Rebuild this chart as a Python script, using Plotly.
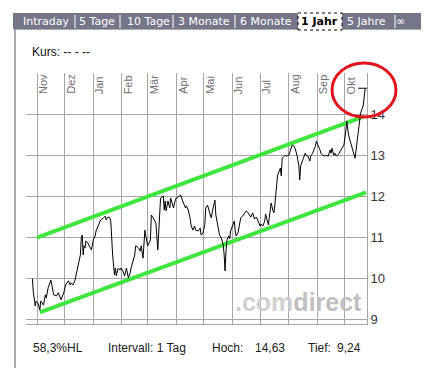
import plotly.graph_objects as go

# ---------------- data ----------------
dates = [
    "2006-10-27", "2006-10-28", "2006-10-30", "2006-10-31", "2006-11-02", "2006-11-04", "2006-11-05",
    "2006-11-08", "2006-11-10", "2006-11-11", "2006-11-13", "2006-11-15", "2006-11-16", "2006-11-19",
    "2006-11-22", "2006-11-24", "2006-11-26", "2006-11-27", "2006-11-30", "2006-12-02", "2006-12-05",
    "2006-12-07", "2006-12-08", "2006-12-10", "2006-12-12", "2006-12-13", "2006-12-15", "2006-12-18",
    "2006-12-19", "2006-12-20", "2006-12-21", "2006-12-22", "2006-12-23", "2006-12-24", "2006-12-26",
    "2006-12-28", "2006-12-30", "2007-01-01", "2007-01-03", "2007-01-04", "2007-01-06", "2007-01-08",
    "2007-01-09", "2007-01-12", "2007-01-14", "2007-01-15", "2007-01-17", "2007-01-19", "2007-01-20",
    "2007-01-22", "2007-01-24", "2007-01-25", "2007-01-26", "2007-01-28", "2007-01-30", "2007-01-31",
    "2007-02-02", "2007-02-04", "2007-02-06", "2007-02-08", "2007-02-10", "2007-02-11", "2007-02-13",
    "2007-02-15", "2007-02-16", "2007-02-19", "2007-02-21", "2007-02-22", "2007-02-24", "2007-02-26",
    "2007-02-27", "2007-03-01", "2007-03-04", "2007-03-05", "2007-03-07", "2007-03-09", "2007-03-10",
    "2007-03-12", "2007-03-14", "2007-03-15", "2007-03-18", "2007-03-19", "2007-03-20", "2007-03-21",
    "2007-03-23", "2007-03-25", "2007-03-26", "2007-03-29", "2007-03-31", "2007-04-01", "2007-04-03",
    "2007-04-05", "2007-04-06", "2007-04-08", "2007-04-11", "2007-04-12", "2007-04-14", "2007-04-16",
    "2007-04-17", "2007-04-19", "2007-04-21", "2007-04-22", "2007-04-25", "2007-04-27", "2007-04-28",
    "2007-04-30", "2007-05-02", "2007-05-03", "2007-05-05", "2007-05-08", "2007-05-09", "2007-05-11",
    "2007-05-13", "2007-05-14", "2007-05-16", "2007-05-18", "2007-05-20", "2007-05-22", "2007-05-23",
    "2007-05-24", "2007-05-25", "2007-05-26", "2007-05-28", "2007-05-29", "2007-05-30", "2007-06-02",
    "2007-06-03", "2007-06-04", "2007-06-05", "2007-06-07", "2007-06-09", "2007-06-10", "2007-06-12",
    "2007-06-15", "2007-06-16", "2007-06-18", "2007-06-20", "2007-06-21", "2007-06-23", "2007-06-25",
    "2007-06-27", "2007-06-29", "2007-07-01", "2007-07-02", "2007-07-04", "2007-07-06", "2007-07-07",
    "2007-07-10", "2007-07-12", "2007-07-13", "2007-07-15", "2007-07-16", "2007-07-17", "2007-07-18",
    "2007-07-20", "2007-07-23", "2007-07-24", "2007-07-25", "2007-07-27", "2007-07-28", "2007-07-30",
    "2007-08-01", "2007-08-03", "2007-08-05", "2007-08-07", "2007-08-08", "2007-08-10", "2007-08-12",
    "2007-08-13", "2007-08-14", "2007-08-17", "2007-08-19", "2007-08-20", "2007-08-22", "2007-08-24",
    "2007-08-25", "2007-08-27", "2007-08-30", "2007-08-31", "2007-09-02", "2007-09-04", "2007-09-05",
    "2007-09-07", "2007-09-09", "2007-09-10", "2007-09-13", "2007-09-15", "2007-09-16", "2007-09-17",
    "2007-09-19", "2007-09-20", "2007-09-22", "2007-09-25", "2007-09-26", "2007-09-28", "2007-09-30",
    "2007-10-02", "2007-10-03", "2007-10-05", "2007-10-08", "2007-10-10", "2007-10-12", "2007-10-13",
    "2007-10-15", "2007-10-17", "2007-10-18", "2007-10-21", "2007-10-23",
]
prices = [
    10.00, 9.66, 9.34, 9.46, 9.41, 9.24, 9.46,
    9.36, 9.61, 9.53, 9.78, 9.95, 9.97, 9.61,
    9.58, 9.66, 9.53, 9.49, 9.66, 9.85, 9.95,
    9.85, 9.90, 9.85, 9.95, 10.07, 10.26, 10.58,
    10.99, 11.06, 10.58, 10.80, 10.75, 10.92, 10.87,
    10.80, 10.70, 10.94, 11.04, 11.16, 11.28, 11.40,
    11.43, 11.48, 11.52, 11.43, 11.50, 11.48, 11.40,
    10.58, 10.09, 10.26, 10.07, 10.26, 10.21, 10.26,
    10.19, 10.07, 10.26, 10.02, 10.14, 10.26, 10.43,
    10.58, 10.80, 10.75, 10.67, 10.80, 10.50, 11.18,
    11.04, 10.80, 10.94, 11.55, 11.48, 11.40, 11.35,
    10.70, 11.48, 11.96, 12.01, 11.67, 11.89, 11.65,
    11.89, 11.72, 11.96, 11.72, 11.91, 11.96, 11.99,
    12.01, 12.03, 11.89, 11.72, 11.77, 11.67, 11.48,
    11.31, 11.18, 11.28, 11.18, 11.16, 11.23, 11.06,
    11.11, 11.31, 11.72, 11.79, 11.55, 11.48, 11.72,
    11.91, 11.55, 11.31, 11.06, 10.99, 10.82, 10.58,
    10.19, 10.67, 10.94, 11.04, 10.97, 11.16, 11.35,
    11.40, 11.16, 11.04, 11.11, 11.31, 11.48, 11.52,
    11.60, 11.65, 11.60, 11.55, 11.50, 11.60, 11.45,
    11.50, 11.40, 11.28, 11.33, 11.28, 11.40, 11.57,
    11.31, 11.67, 11.84, 11.65, 11.60, 11.79, 12.01,
    12.52, 12.69, 12.50, 12.93, 12.98, 13.00, 12.98,
    13.00, 13.13, 13.25, 13.22, 13.17, 13.00, 12.76,
    12.40, 12.74, 12.93, 13.05, 13.00, 12.98, 12.86,
    12.98, 13.05, 13.22, 13.34, 13.25, 13.13, 13.05,
    13.00, 12.98, 13.00, 12.98, 13.13, 13.05, 13.17,
    13.00, 13.05, 12.98, 13.05, 13.10, 13.17, 13.25,
    13.59, 13.83, 13.49, 13.25, 13.05, 12.93, 13.10,
    13.42, 13.73, 14.02, 14.22, 14.63,
]

month_ticks = ["2006-11-01", "2006-12-01", "2007-01-01", "2007-02-01", "2007-03-01", "2007-04-01",
               "2007-05-01", "2007-06-01", "2007-07-01", "2007-08-01", "2007-09-01", "2007-10-01"]
month_labels = ["Nov", "Dez", "Jan", "Feb", "Mär", "Apr", "Mai", "Jun", "Jul", "Aug", "Sep", "Okt"]
y_ticks = [9, 10, 11, 12, 13, 14]

upper_dates = ["2006-11-01", "2007-10-21"]
upper_vals = [11.00, 13.94]
lower_dates = ["2006-11-04", "2007-10-24"]
lower_vals = [9.18, 12.10]

tab_labels = ["Intraday", "5 Tage", "10 Tage", "3 Monate", "6 Monate", "1 Jahr", "5 Jahre", "∞"]
active_tab = "1 Jahr"

kurs_text = "Kurs: -- - --"
stat_hl = "58,3%HL"
stat_interval = "Intervall: 1 Tag"
stat_high_label, stat_high = "Hoch:", "14,63"
stat_low_label, stat_low = "Tief:", "9,24"

# ---------------- layout helpers (pixel -> paper) ----------------
W, H = 429, 368
L, R, T, B = 18, 359, 65, 316


def px(x):
    return (x - L) / (R - L)


def py(y):
    return (B - y) / (B - T)


FONT = "Arial, Liberation Sans, sans-serif"
TABFONT = "DejaVu Sans, Verdana, sans-serif"

fig = go.Figure()

fig.add_trace(go.Scatter(x=upper_dates, y=upper_vals, mode="lines",
                         line=dict(color="#3ee63e", width=4), hoverinfo="skip"))
fig.add_trace(go.Scatter(x=lower_dates, y=lower_vals, mode="lines",
                         line=dict(color="#3ee63e", width=4), hoverinfo="skip"))
fig.add_trace(go.Scatter(x=dates, y=prices, mode="lines",
                         line=dict(color="#000000", width=1), hoverinfo="skip"))
fig.add_trace(go.Scatter(x=[dates[-1]], y=[prices[-1]], mode="markers",
                         marker=dict(symbol="line-ew", size=10,
                                     line=dict(color="#000000", width=1)),
                         hoverinfo="skip"))

shapes = []
annotations = []

# outer frame
shapes.append(dict(type="rect", xref="paper", yref="paper",
                   x0=px(7), x1=px(418), y0=py(362), y1=py(21),
                   line=dict(color="#5a5a5a", width=1), fillcolor="rgba(0,0,0,0)", layer="below"))
# tab bar
shapes.append(dict(type="rect", xref="paper", yref="paper",
                   x0=px(5), x1=px(423), y0=py(21), y1=py(5),
                   line=dict(width=0), fillcolor="#76768a", layer="above"))
tab_centers = [38, 89, 140, 196, 257.5, 311.5, 358, 393]
separators = [67, 112, 165, 227, 387]
for s in separators:
    shapes.append(dict(type="line", xref="paper", yref="paper",
                       x0=px(s), x1=px(s), y0=py(20), y1=py(7),
                       line=dict(color="#ffffff", width=1), layer="above"))
# active tab
shapes.append(dict(type="rect", xref="paper", yref="paper",
                   x0=px(290), x1=px(334), y0=py(22), y1=py(5),
                   line=dict(color="#000000", width=1, dash="dot"), fillcolor="#ffffff", layer="above"))
for lab, cx in zip(tab_labels, tab_centers):
    active = lab == active_tab
    annotations.append(dict(
        xref="paper", yref="paper", x=px(cx), y=py(13.5), text=("<b>%s</b>" % lab) if active else lab,
        showarrow=False, xanchor="center", yanchor="middle",
        font=dict(family=TABFONT, size=11, color="#000000" if active else "#ffffff")))

# red circle
shapes.append(dict(type="circle", xref="paper", yref="paper",
                   x0=px(324), x1=px(388), y0=py(109), y1=py(55),
                   line=dict(color="#e3121b", width=3), layer="above"))

# month labels (rotated, inside plot top)
for d, lab in zip(month_ticks, month_labels):
    annotations.append(dict(
        xref="x", yref="paper", x=d, y=py(88), text=lab, textangle=-90,
        showarrow=False, xanchor="center", yanchor="bottom", xshift=6,
        font=dict(family=FONT, size=11, color="#6e6e6e")))

# watermark
annotations.append(dict(
    xref="paper", yref="paper", x=px(290), y=py(294),
    text="<b><span style='color:#d0d0d0'>.com</span>direct</b>",
    showarrow=False, xanchor="center", yanchor="middle",
    font=dict(family=FONT, size=25, color="#c0c0c0")))

# Kurs text
annotations.append(dict(
    xref="paper", yref="paper", x=px(22), y=py(44), text=kurs_text,
    showarrow=False, xanchor="left", yanchor="middle",
    font=dict(family=FONT, size=12, color="#111111")))

# bottom statistics
for txt, xp in [(stat_hl, 23), (stat_interval, 98), (stat_high_label, 202), (stat_high, 245),
                (stat_low_label, 298), (stat_low, 327)]:
    annotations.append(dict(
        xref="paper", yref="paper", x=px(xp), y=py(340), text=txt,
        showarrow=False, xanchor="left", yanchor="middle",
        font=dict(family=FONT, size=12, color="#1a1a1a")))

fig.update_layout(
    width=W, height=H, autosize=False,
    margin=dict(l=L, r=W - R, t=T, b=H - B, pad=0),
    paper_bgcolor="#ffffff", plot_bgcolor="#ffffff",
    showlegend=False, hovermode=False,
    shapes=shapes, annotations=annotations,
    xaxis=dict(type="date", range=["2006-10-20", "2007-10-25"],
               tickmode="array", tickvals=month_ticks, showticklabels=False,
               showgrid=True, gridcolor="#a6a6a6", gridwidth=1,
               showline=True, linecolor="#a6a6a6", linewidth=1, zeroline=False, ticks=""),
    yaxis=dict(range=[8.90, 15.0], side="right", tickmode="array", tickvals=y_ticks,
               ticktext=[str(v) for v in y_ticks],
               showgrid=True, gridcolor="#a6a6a6", gridwidth=1,
               showline=True, linecolor="#a6a6a6", linewidth=1, zeroline=False, ticks="",
               tickfont=dict(family=FONT, size=13, color="#333333")),
)

fig.write_html("out.html", config={"displayModeBar": False, "staticPlot": True})
